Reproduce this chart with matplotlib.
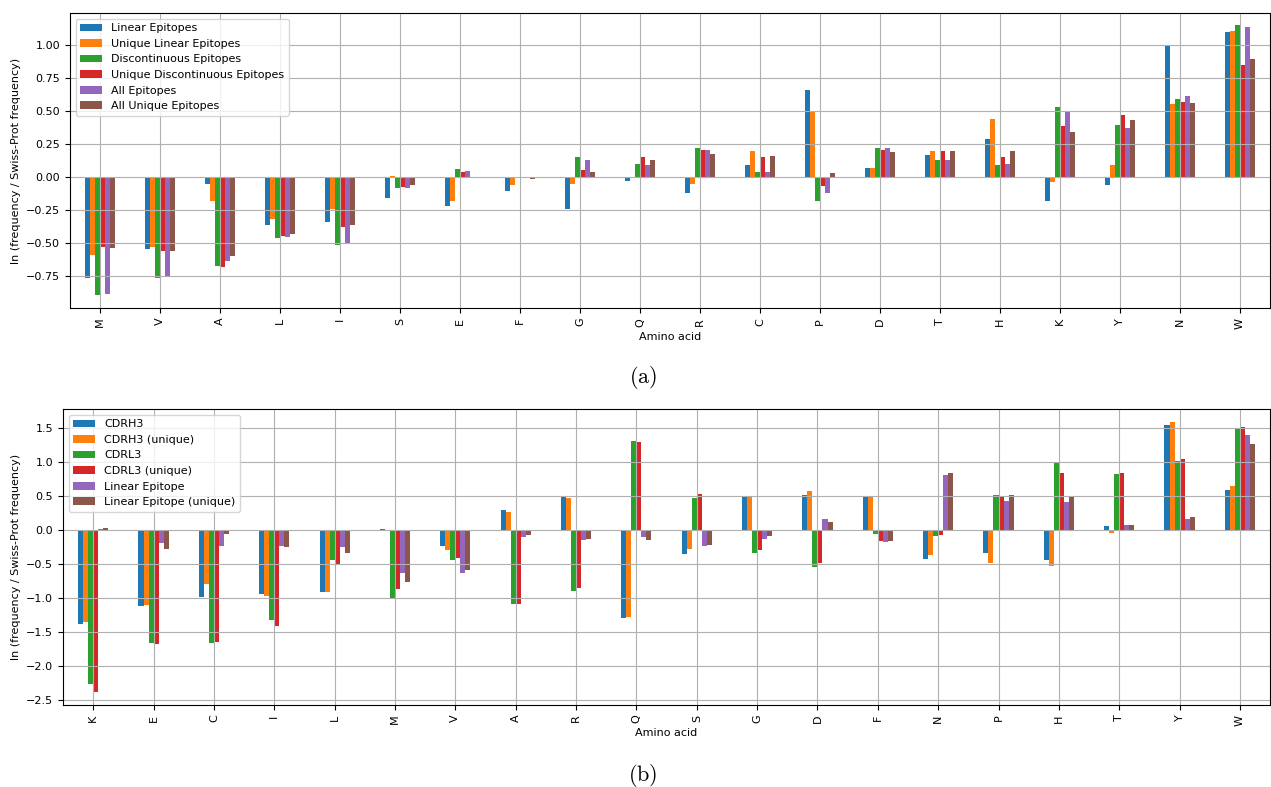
import pandas as pd
from matplotlib import pyplot as plt

plt.rcParams['mathtext.fontset'] = 'cm'

# (a) epitope residues
aa_a = ['M', 'V', 'A', 'L', 'I', 'S', 'E', 'F', 'G', 'Q',
        'R', 'C', 'P', 'D', 'T', 'H', 'K', 'Y', 'N', 'W']
linear = [-0.77, -0.548, -0.053, -0.369, -0.343, -0.162, -0.22, -0.104, -0.245, -0.03,
          -0.119, 0.091, 0.659, 0.066, 0.164, 0.288, -0.187, -0.063, 0.992, 1.098]
linear_u = [-0.59, -0.533, -0.187, -0.318, -0.245, 0.008, -0.18, -0.061, -0.056, 0.0,
            -0.053, 0.197, 0.495, 0.066, 0.197, 0.437, -0.038, 0.091, 0.553, 1.106]
discont = [-0.894, -0.77, -0.68, -0.467, -0.518, -0.088, 0.058, 0.0, 0.149, 0.098,
           0.222, 0.033, -0.187, 0.222, 0.131, 0.091, 0.528, 0.396, 0.593, 1.149]
discont_u = [-0.533, -0.566, -0.687, -0.45, -0.384, -0.078, 0.033, 0.0, 0.05, 0.149,
             0.205, 0.149, -0.073, 0.205, 0.197, 0.149, 0.389, 0.47, 0.568, 0.851]
all_ep = [-0.886, -0.76, -0.636, -0.457, -0.503, -0.088, 0.043, 0.0, 0.131, 0.091,
          0.205, 0.04, -0.119, 0.215, 0.131, 0.098, 0.5, 0.371, 0.611, 1.139]
all_u = [-0.54, -0.566, -0.598, -0.434, -0.366, -0.063, 0.0, -0.013, 0.033, 0.131,
         0.172, 0.159, 0.028, 0.189, 0.197, 0.197, 0.338, 0.429, 0.56, 0.891]

# (b) CDR residues vs. linear epitope
aa_b = ['K', 'E', 'C', 'I', 'L', 'M', 'V', 'A', 'R', 'Q',
        'S', 'G', 'D', 'F', 'N', 'P', 'H', 'T', 'Y', 'W']
cdrh3 = [-1.385, -1.11, -0.988, -0.939, -0.904, 0.022, -0.228, 0.297, 0.493, -1.287,
         -0.355, 0.493, 0.522, 0.493, -0.419, -0.341, -0.439, 0.056, 1.546, 0.586]
cdrh3_u = [-1.35, -1.096, -0.787, -0.968, -0.904, 0.0, -0.297, 0.262, 0.473, -1.277,
           -0.277, 0.493, 0.571, 0.493, -0.37, -0.488, -0.532, -0.037, 1.596, 0.65]
cdrl3 = [-2.267, -1.654, -1.654, -1.321, -0.439, -1.007, -0.439, -1.081, -0.89, 1.311,
         0.473, -0.341, -0.547, -0.051, -0.081, 0.517, 0.988, 0.826, 1.017, 1.488]
cdrl3_u = [-2.38, -1.674, -1.64, -1.404, -0.507, -0.87, -0.404, -1.081, -0.845, 1.291,
           0.532, -0.297, -0.488, -0.164, -0.066, 0.493, 0.841, 0.841, 1.047, 1.517]
lin_ep = [0.022, -0.184, -0.228, -0.228, -0.248, -0.63, -0.63, -0.1, -0.149, -0.1,
          -0.228, -0.135, 0.169, -0.179, 0.811, 0.429, 0.409, 0.071, 0.169, 1.404]
lin_ep_u = [0.037, -0.282, -0.056, -0.248, -0.341, -0.757, -0.586, -0.066, -0.13, -0.149,
            -0.213, -0.086, 0.12, -0.164, 0.841, 0.517, 0.493, 0.071, 0.199, 1.262]

df_a = pd.DataFrame({
    'Linear Epitopes': linear,
    'Unique Linear Epitopes': linear_u,
    'Discontinuous Epitopes': discont,
    'Unique Discontinuous Epitopes': discont_u,
    'All Epitopes': all_ep,
    'All Unique Epitopes': all_u,
}, index=pd.Index(aa_a, name='Amino acid'))

df_b = pd.DataFrame({
    'CDRH3': cdrh3,
    'CDRH3 (unique)': cdrh3_u,
    'CDRL3': cdrl3,
    'CDRL3 (unique)': cdrl3_u,
    'Linear Epitope': lin_ep,
    'Linear Epitope (unique)': lin_ep_u,
}, index=pd.Index(aa_b, name='Amino acid'))

fig = plt.figure(figsize=(12.71, 7.87), dpi=100)
ax1 = fig.add_axes([0.0551, 0.6086, 0.944, 0.3745])
ax2 = fig.add_axes([0.0496, 0.1042, 0.9497, 0.3757])

panels = [(ax1, df_a, '(a)', 0.5197, (-0.995, 1.24)),
          (ax2, df_b, '(b)', 0.0152, (-2.571, 1.777))]
for ax, df, cap, ycap, ylim in panels:
    df.plot(kind='bar', ax=ax, grid=True)
    ax.set_ylim(ylim)
    ax.set_ylabel('ln (frequency / Swiss-Prot frequency)', fontsize=8)
    ax.set_xlabel('Amino acid', fontsize=8, labelpad=2)
    ax.tick_params(axis='both', which='major', labelsize=8)
    ax.legend(loc='upper left', fontsize=8)
    fig.text(0.506, ycap, r'$\mathrm{' + cap + '}$', fontsize=16,
             ha='center', va='center')

fig.savefig('out.png', dpi=100)
